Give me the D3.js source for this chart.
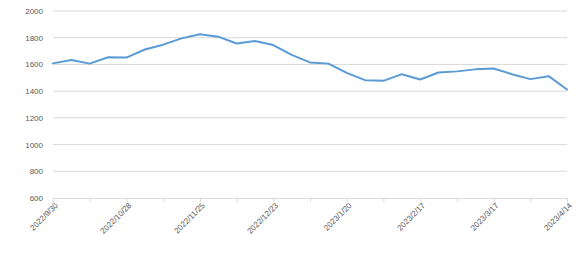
<!DOCTYPE html>
<html>
<head>
<meta charset="utf-8">
<script src="https://cdn.jsdelivr.net/npm/d3@7"></script>
<style>
  body { margin: 0; background: #fff; }
  svg { display: block; font-family: "Liberation Sans", Arial, sans-serif; }
</style>
</head>
<body>
<div id="chart"></div>
<script>
const dates = [
  '2022/9/30', '2022/10/7', '2022/10/14', '2022/10/21', '2022/10/28',
  '2022/11/4', '2022/11/11', '2022/11/18', '2022/11/25', '2022/12/2',
  '2022/12/9', '2022/12/16', '2022/12/23', '2022/12/30', '2023/1/6',
  '2023/1/13', '2023/1/20', '2023/1/27', '2023/2/3', '2023/2/10',
  '2023/2/17', '2023/2/24', '2023/3/3', '2023/3/10', '2023/3/17',
  '2023/3/24', '2023/3/31', '2023/4/7', '2023/4/14'
];
const values = [
  1608, 1633, 1606, 1654, 1651, 1712, 1748, 1795, 1826, 1808,
  1757, 1775, 1745, 1672, 1615, 1606, 1537, 1482, 1477, 1527,
  1487, 1540, 1548, 1563, 1570, 1527, 1490, 1512, 1412
];
const labelDates = ['2022/9/30', '2022/10/28', '2022/11/25', '2022/12/23',
  '2023/1/20', '2023/2/17', '2023/3/17', '2023/4/14'];
const yTicks = [600, 800, 1000, 1200, 1400, 1600, 1800, 2000];

const width = 580, height = 259;
const margin = { top: 11, right: 13, bottom: 61, left: 53 };
const innerWidth = width - margin.left - margin.right;
const innerHeight = height - margin.top - margin.bottom;

const svg = d3.select('#chart').append('svg')
  .attr('width', width)
  .attr('height', height);

const g = svg.append('g')
  .attr('transform', `translate(${margin.left},${margin.top})`);

const x = d3.scalePoint()
  .domain(dates)
  .range([0, innerWidth]);

const y = d3.scaleLinear()
  .domain([600, 2000])
  .range([innerHeight, 0]);

// 그리드
g.append('g')
  .selectAll('line')
  .data(yTicks.filter(d => d > 600))
  .enter()
  .append('line')
  .attr('x1', 0)
  .attr('x2', innerWidth)
  .attr('y1', d => y(d))
  .attr('y2', d => y(d))
  .attr('stroke', '#d9d9d9')
  .attr('stroke-width', 1);

// y 축
const yAxis = g.append('g')
  .call(d3.axisLeft(y).tickValues(yTicks).tickSize(0).tickPadding(10).tickFormat(d3.format('d')));
yAxis.select('.domain').remove();
yAxis.selectAll('text')
  .attr('fill', '#595959')
  .style('font-size', '8px');

// x 축
const xAxis = g.append('g')
  .attr('transform', `translate(0,${innerHeight})`)
  .call(d3.axisBottom(x)
    .tickValues(dates.filter((d, i) => i % 2 === 0))
    .tickSize(4)
    .tickSizeOuter(0)
    .tickFormat(d => d));
xAxis.select('.domain').attr('stroke', '#d9d9d9');
xAxis.selectAll('.tick line').attr('stroke', '#d9d9d9');
xAxis.selectAll('.tick')
  .filter(d => !labelDates.includes(d))
  .select('text').remove();
xAxis.selectAll('text')
  .attr('fill', '#595959')
  .style('font-size', '8px')
  .attr('text-anchor', 'end')
  .attr('x', 0)
  .attr('y', 0)
  .attr('dy', '0.35em')
  .attr('transform', 'translate(3,6) rotate(-45)');

// 라인
const line = d3.line()
  .x((d, i) => x(dates[i]))
  .y(d => y(d));

g.append('path')
  .datum(values)
  .attr('fill', 'none')
  .attr('stroke', '#5b9bd5')
  .attr('stroke-width', 2)
  .attr('stroke-linejoin', 'round')
  .attr('stroke-linecap', 'round')
  .attr('d', line);
</script>
</body>
</html>
